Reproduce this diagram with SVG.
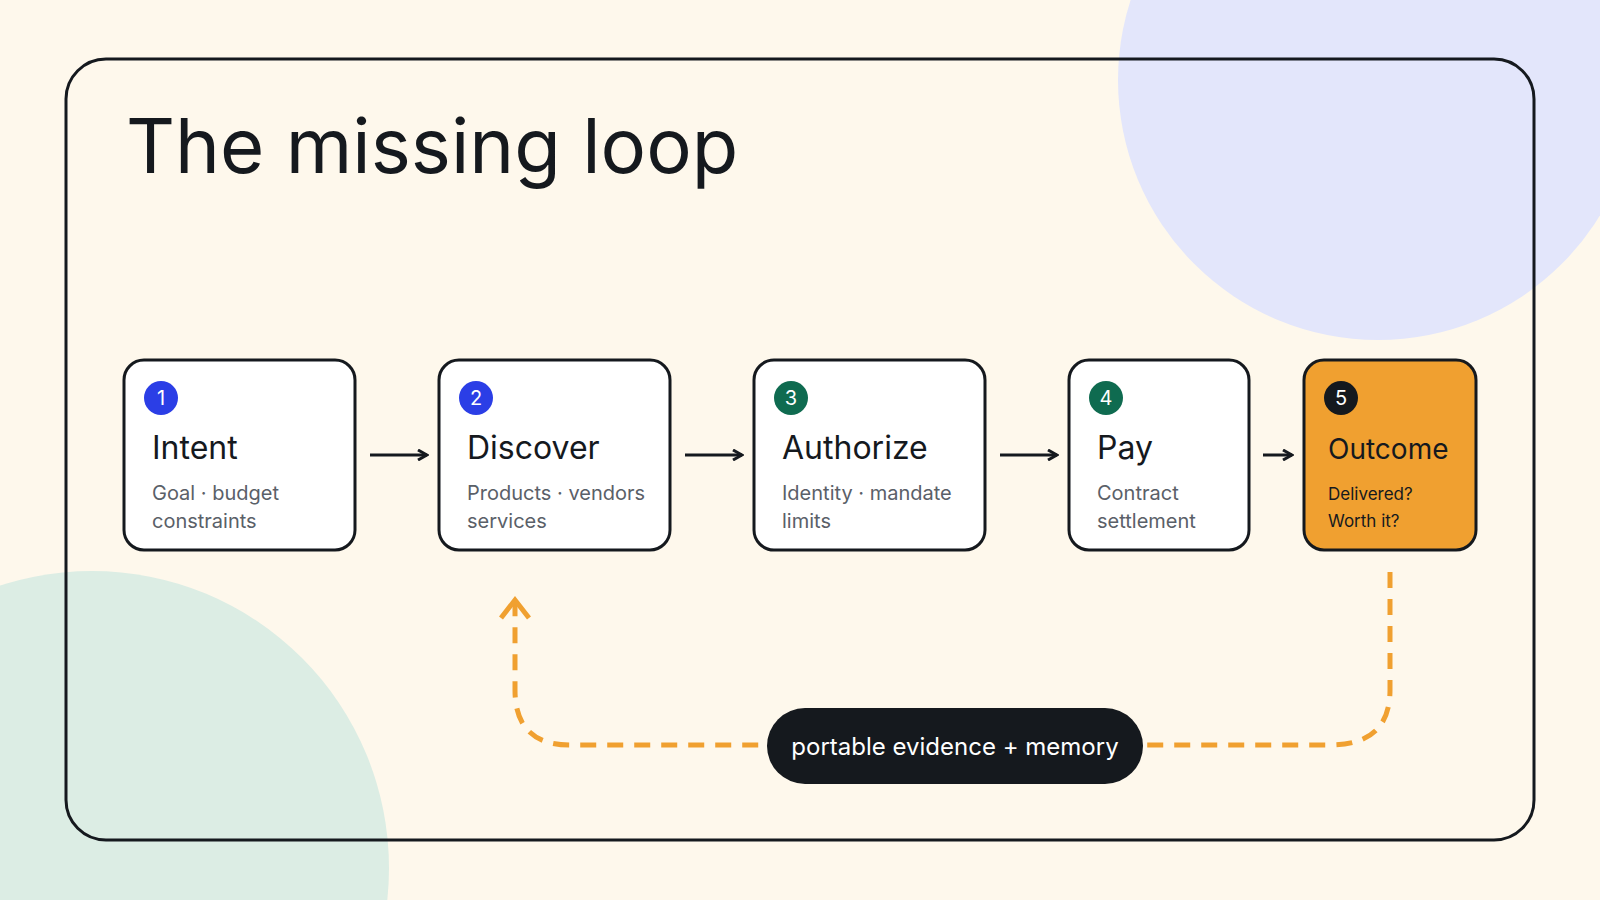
<svg xmlns="http://www.w3.org/2000/svg" width="1600" height="900" viewBox="0 0 1600 900">
<defs>
<style>
text{font-family:Inter,"Noto Sans","Liberation Sans",sans-serif}
.box{fill:#fff;stroke:#15191e;stroke-width:3}
.t{font-size:32px;fill:#15191e}
.s{font-size:20px;fill:#5a6068}
.n{font-size:20px;fill:#fff;text-anchor:middle}
.ar{stroke:#15191e;stroke-width:3;fill:none}
</style>
<marker id="ah" viewBox="0 0 12 12" refX="10" refY="6" markerWidth="12" markerHeight="12" markerUnits="userSpaceOnUse" orient="auto"><path d="M1,1 L10,6 L1,11" fill="none" stroke="#15191e" stroke-width="3"/></marker>
</defs>
<rect width="1600" height="900" fill="#fef8ec"/>
<circle cx="1378" cy="80" r="260" fill="#e3e6fb"/>
<circle cx="92" cy="868" r="297" fill="#dcede4"/>
<rect x="66" y="59" width="1468" height="781" rx="40" fill="none" stroke="#15191e" stroke-width="3"/>
<text x="126" y="173" font-size="76" fill="#15191e">The missing loop</text>
<g id="connectors">
<line class="ar" x1="370" y1="455" x2="427" y2="455" marker-end="url(#ah)"/>
<line class="ar" x1="685" y1="455" x2="742" y2="455" marker-end="url(#ah)"/>
<line class="ar" x1="1000" y1="455" x2="1057" y2="455" marker-end="url(#ah)"/>
<line class="ar" x1="1263" y1="455" x2="1292" y2="455" marker-end="url(#ah)"/>
<path d="M1390,572 V690 Q1390,745 1330,745 H570 Q515,745 515,690 V603" fill="none" stroke="#f0a030" stroke-width="5" stroke-dasharray="16 11"/>
<path d="M501,618 L515,600 L529,618" fill="none" stroke="#f0a030" stroke-width="5"/>
</g>
<g id="n1"><rect class="box" x="124" y="360" width="231" height="190" rx="20"/><circle cx="161" cy="398" r="17" fill="#2b3ee6"/><text class="n" x="161" y="405">1</text><text class="t" x="152" y="459">Intent</text><text class="s" x="152" y="500">Goal · budget</text><text class="s" x="152" y="528">constraints</text></g>
<g id="n2"><rect class="box" x="439" y="360" width="231" height="190" rx="20"/><circle cx="476" cy="398" r="17" fill="#2b3ee6"/><text class="n" x="476" y="405">2</text><text class="t" x="467" y="459">Discover</text><text class="s" x="467" y="500">Products · vendors</text><text class="s" x="467" y="528">services</text></g>
<g id="n3"><rect class="box" x="754" y="360" width="231" height="190" rx="20"/><circle cx="791" cy="398" r="17" fill="#0f6b50"/><text class="n" x="791" y="405">3</text><text class="t" x="782" y="459">Authorize</text><text class="s" x="782" y="500">Identity · mandate</text><text class="s" x="782" y="528">limits</text></g>
<g id="n4"><rect class="box" x="1069" y="360" width="180" height="190" rx="20"/><circle cx="1106" cy="398" r="17" fill="#0f6b50"/><text class="n" x="1106" y="405">4</text><text class="t" x="1097" y="459">Pay</text><text class="s" x="1097" y="500">Contract</text><text class="s" x="1097" y="528">settlement</text></g>
<g id="n5"><rect x="1304" y="360" width="172" height="190" rx="20" fill="#f0a030" stroke="#15191e" stroke-width="3"/><circle cx="1341" cy="398" r="17" fill="#15191e"/><text class="n" x="1341" y="405">5</text><text x="1328" y="459" font-size="28" fill="#15191e">Outcome</text><text x="1328" y="500" font-size="17" fill="#15191e">Delivered?</text><text x="1328" y="527" font-size="17" fill="#15191e">Worth it?</text></g>
<g id="pill"><rect x="767" y="708" width="376" height="76" rx="38" fill="#15191e"/><text x="955" y="755" font-size="24" fill="#fff" text-anchor="middle">portable evidence + memory</text></g>
</svg>
